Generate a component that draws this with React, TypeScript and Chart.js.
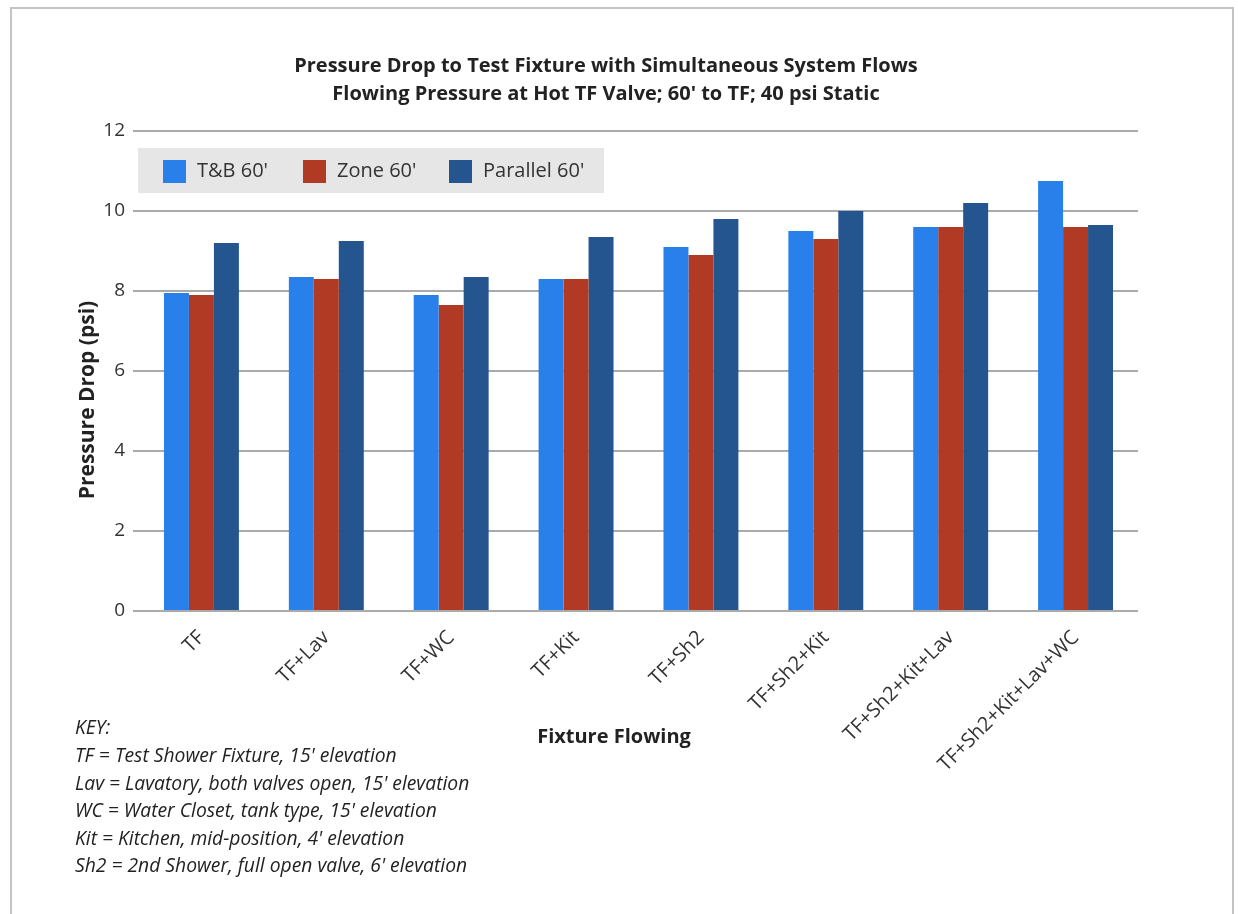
import React, { useEffect, useRef } from "react";
import { Chart, registerables } from "chart.js";

Chart.register(...registerables);

const TITLE_LINES = [
  "Pressure Drop to Test Fixture with Simultaneous System Flows",
  "Flowing Pressure at Hot TF Valve; 60' to TF; 40 psi Static",
];
const CATEGORIES = [
  "TF",
  "TF+Lav",
  "TF+WC",
  "TF+Kit",
  "TF+Sh2",
  "TF+Sh2+Kit",
  "TF+Sh2+Kit+Lav",
  "TF+Sh2+Kit+Lav+WC",
];
const SERIES_LABELS = ["T&B 60'", "Zone 60'", "Parallel 60'"];
const TB_60 = [7.95, 8.35, 7.9, 8.3, 9.1, 9.5, 9.6, 10.75];
const ZONE_60 = [7.9, 8.3, 7.65, 8.3, 8.9, 9.3, 9.6, 9.6];
const PARALLEL_60 = [9.2, 9.25, 8.35, 9.35, 9.8, 10.0, 10.2, 9.65];
const Y_TICKS = [0, 2, 4, 6, 8, 10, 12];
const Y_TITLE = "Pressure Drop (psi)";
const X_TITLE = "Fixture Flowing";
const KEY_LINES = [
  "KEY:",
  "TF = Test Shower Fixture, 15' elevation",
  "Lav = Lavatory, both valves open, 15' elevation",
  "WC = Water Closet, tank type, 15' elevation",
  "Kit = Kitchen, mid-position, 4' elevation",
  "Sh2 = 2nd Shower, full open valve, 6' elevation",
];

const COLORS = ["#2a80ea", "#b03a24", "#24558f"];
const FONT = "'Open Sans', 'Noto Sans', sans-serif";

const overlayPlugin = {
  id: "overlay",
  afterDraw(chart: any) {
    const ctx = chart.ctx as CanvasRenderingContext2D;
    const ca = chart.chartArea;
    ctx.save();
    // legend inside the plot area
    const bx = ca.left - 1;
    const by = ca.top + 17;
    ctx.fillStyle = "#e6e6e6";
    ctx.fillRect(bx, by, 466, 45);
    const offsets = [25, 165, 311];
    ctx.font = `20px ${FONT}`;
    ctx.textBaseline = "middle";
    ctx.textAlign = "left";
    chart.data.datasets.forEach((ds: any, i: number) => {
      const x = bx + offsets[i];
      ctx.fillStyle = ds.backgroundColor;
      ctx.fillRect(x, by + 12, 23, 23);
      ctx.fillStyle = "#333333";
      ctx.fillText(ds.label, x + 34, by + 23.5);
    });
    // axis titles
    ctx.fillStyle = "#222222";
    ctx.font = `bold 20px ${FONT}`;
    ctx.textAlign = "center";
    ctx.fillText(X_TITLE, 614, 737);
    ctx.save();
    ctx.translate(88, 400);
    ctx.rotate(-Math.PI / 2);
    ctx.font = `bold 21px ${FONT}`;
    ctx.fillText(Y_TITLE, 0, 0);
    ctx.restore();
    // key
    ctx.font = `italic 19.3px ${FONT}`;
    ctx.textAlign = "left";
    KEY_LINES.forEach((line, i) => {
      ctx.fillText(line, 75, 729 + i * 27.6);
    });
    ctx.restore();
  },
};

export default function App() {
  const ref = useRef<HTMLCanvasElement | null>(null);
  useEffect(() => {
    if (!ref.current) return;
    const chart = new Chart(ref.current, {
      type: "bar",
      data: {
        labels: CATEGORIES,
        datasets: [TB_60, ZONE_60, PARALLEL_60].map((d, i) => ({
          label: SERIES_LABELS[i],
          data: d,
          backgroundColor: COLORS[i],
          borderWidth: 0,
          categoryPercentage: 0.6,
          barPercentage: 1.0,
        })),
      },
      options: {
        animation: false,
        responsive: false,
        layout: { padding: { left: 74, right: 100, top: 10, bottom: 103 } },
        plugins: {
          legend: { display: false },
          tooltip: { enabled: false },
          title: {
            display: true,
            text: TITLE_LINES,
            color: "#222222",
            font: { family: FONT, size: 20, weight: "bold", lineHeight: 28 / 20 },
            padding: { top: 42, bottom: 23 },
          },
        },
        scales: {
          x: {
            grid: { display: false },
            border: { display: false },
            ticks: {
              minRotation: 45,
              maxRotation: 45,
              autoSkip: false,
              color: "#333333",
              font: { family: FONT, size: 20 },
              padding: 7,
            },
            afterFit: (s: any) => {
              s.height = 200;
            },
          },
          y: {
            min: 0,
            max: 12,
            border: { display: false },
            grid: { color: "#aaaaaa", lineWidth: 2, tickLength: 6, drawTicks: true },
            ticks: {
              color: "#333333",
              font: { family: FONT, size: 19 },
              padding: 8,
            },
            afterBuildTicks: (s: any) => {
              s.ticks = Y_TICKS.map((v) => ({ value: v }));
            },
            afterFit: (s: any) => {
              s.width = 65;
            },
          },
        },
      },
      plugins: [overlayPlugin],
    });
    return () => chart.destroy();
  }, []);

  return (
    <div
      style={{
        position: "fixed",
        left: 0,
        top: 0,
        width: 1238,
        height: 914,
        overflow: "hidden",
        background: "#ffffff",
      }}
    >
      <div
        style={{
          position: "absolute",
          left: 10,
          top: 7,
          width: 1224,
          height: 1000,
          border: "2px solid #c4c4c4",
          boxSizing: "border-box",
        }}
      />
      <canvas
        ref={ref}
        width={1238}
        height={914}
        style={{ position: "absolute", left: 0, top: 0 }}
      />
    </div>
  );
}
